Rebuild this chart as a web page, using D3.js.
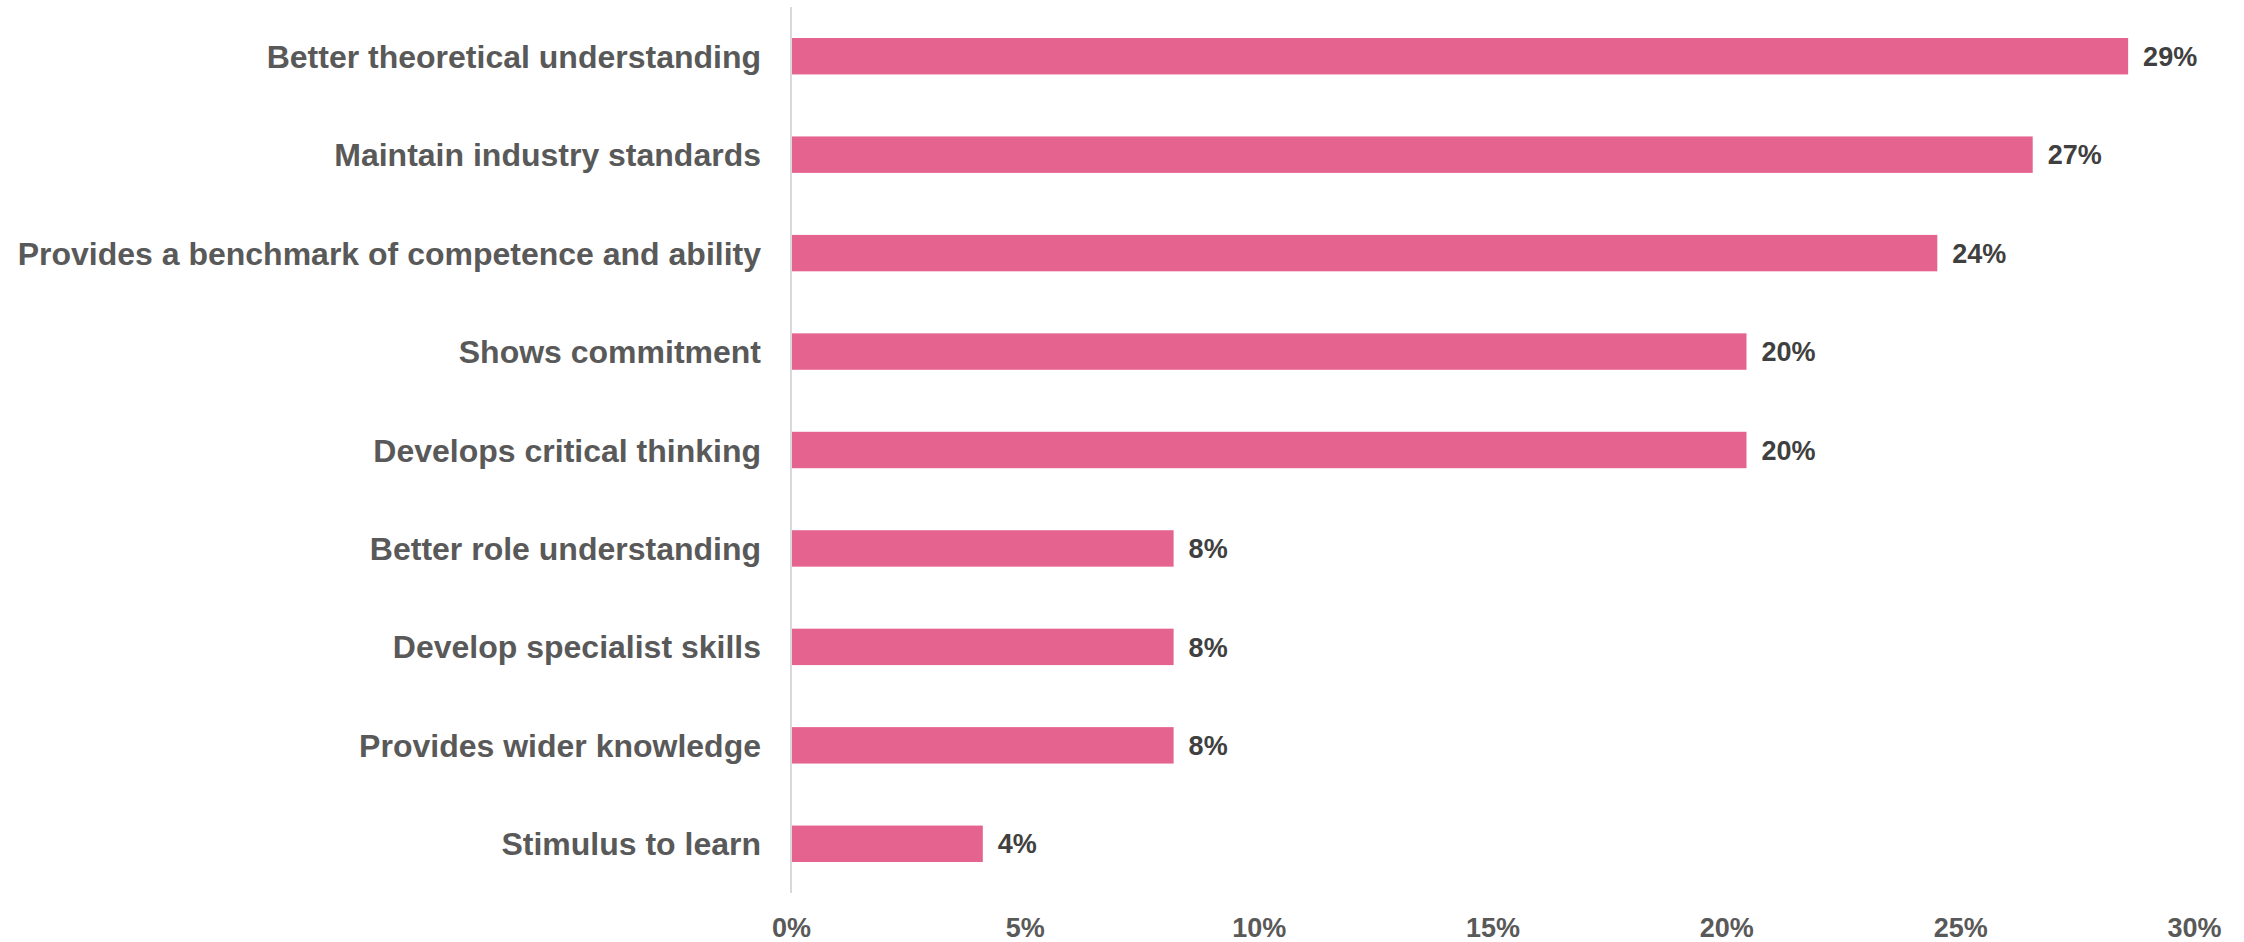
<!DOCTYPE html>
<html>
<head>
<meta charset="utf-8">
<script src="https://cdn.jsdelivr.net/npm/d3@7"></script>
<style>
  html, body { margin: 0; padding: 0; background: #ffffff; }
  svg { display: block; }
  text { font-family: "Liberation Sans", Arial, Helvetica, sans-serif; font-weight: bold; }
</style>
</head>
<body>
<svg id="chart" width="2244" height="942"></svg>
<script>
// Reasons given for the value of the qualification (share of respondents)
const categories = [
  "Better theoretical understanding",
  "Maintain industry standards",
  "Provides a benchmark of competence and ability",
  "Shows commitment",
  "Develops critical thinking",
  "Better role understanding",
  "Develop specialist skills",
  "Provides wider knowledge",
  "Stimulus to learn"
];
const shares = [0.2857, 0.2653, 0.2449, 0.2041, 0.2041, 0.0816, 0.0816, 0.0816, 0.0408];
const tickValues = [0, 0.05, 0.10, 0.15, 0.20, 0.25, 0.30];

const svg = d3.select("#chart");
const plotLeft = 791, plotRight = 2194, plotTop = 7, plotBottom = 893;

const x = d3.scaleLinear().domain([0, 0.30]).range([plotLeft, plotRight]);
const y = d3.scaleBand().domain(categories).range([plotTop, plotBottom])
  .paddingInner(0.63).paddingOuter(0.315);
const pct = d3.format(".0%");

// Bars (start just right of the axis line)
svg.append("g").selectAll("rect")
  .data(categories)
  .join("rect")
  .attr("x", x(0) + 1)
  .attr("y", d => y(d))
  .attr("width", (d, i) => x(shares[i]) - x(0))
  .attr("height", y.bandwidth())
  .attr("fill", "#E5638F");

// Vertical axis line
svg.append("line")
  .attr("x1", x(0)).attr("x2", x(0))
  .attr("y1", plotTop).attr("y2", plotBottom)
  .attr("stroke", "#d9d9d9").attr("stroke-width", 2);

// Category labels
const yAxis = d3.axisLeft(y).tickSize(0).tickPadding(30);
const gy = svg.append("g").attr("transform", `translate(${plotLeft},0)`).call(yAxis);
gy.select(".domain").remove();
gy.attr("font-family", null).attr("font-size", null);
gy.selectAll("text")
  .attr("font-size", 32)
  .attr("fill", "#595959")
  .attr("dy", "0.36em");

// Value labels
svg.append("g").selectAll("text")
  .data(categories)
  .join("text")
  .attr("x", (d, i) => x(shares[i]) + 16)
  .attr("y", d => y(d) + y.bandwidth() / 2)
  .attr("dy", "0.36em")
  .attr("font-size", 27)
  .attr("fill", "#404040")
  .text((d, i) => pct(shares[i]));

// Horizontal axis tick labels
const xAxis = d3.axisBottom(x).tickValues(tickValues).tickFormat(pct).tickSize(0).tickPadding(0);
const gx = svg.append("g").attr("transform", `translate(0,${plotBottom})`).call(xAxis);
gx.select(".domain").remove();
gx.attr("font-family", null).attr("font-size", null);
gx.selectAll("text")
  .attr("font-size", 27)
  .attr("fill", "#595959")
  .attr("dy", null)
  .attr("y", 44);
</script>
</body>
</html>
